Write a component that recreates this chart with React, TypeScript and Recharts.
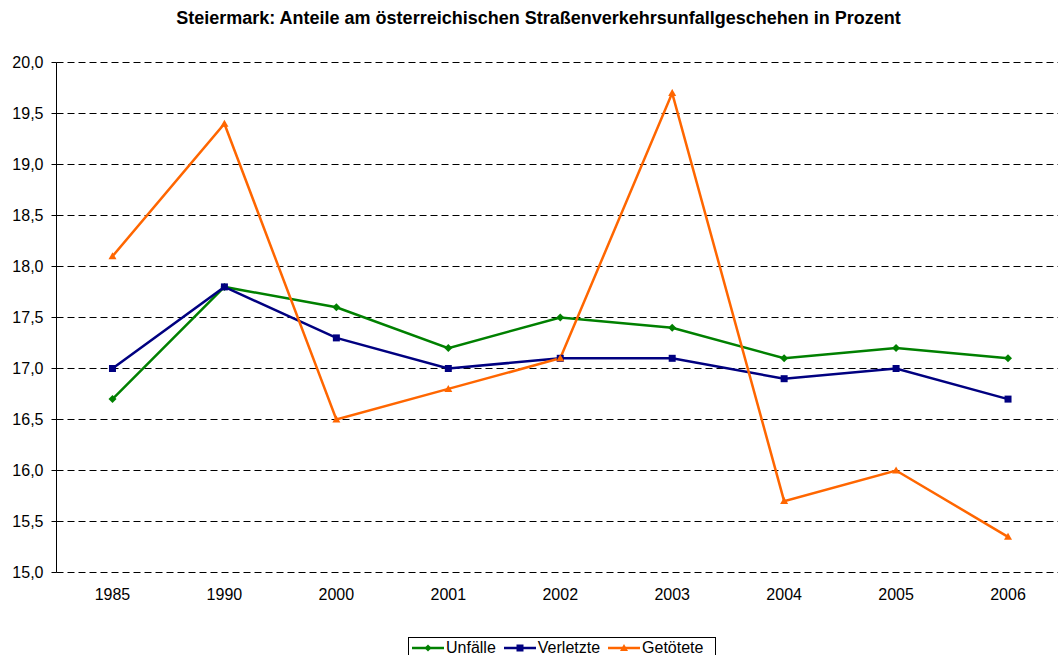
import { CartesianGrid, Legend, Line, LineChart, XAxis, YAxis } from 'recharts';

const years = ['1985', '1990', '2000', '2001', '2002', '2003', '2004', '2005', '2006'];
const unfaelle = [16.7, 17.8, 17.6, 17.2, 17.5, 17.4, 17.1, 17.2, 17.1];
const verletzte = [17.0, 17.8, 17.3, 17.0, 17.1, 17.1, 16.9, 17.0, 16.7];
const getoetete = [18.1, 19.4, 16.5, 16.8, 17.1, 19.7, 15.7, 16.0, 15.35];
const yTicks = [15, 15.5, 16, 16.5, 17, 17.5, 18, 18.5, 19, 19.5, 20];
const boundaryTicks = [0, 1, 2, 3, 4, 5, 6, 7, 8, 9];

const data = years.map((year, i) => ({
  year,
  Unfälle: unfaelle[i],
  Verletzte: verletzte[i],
  Getötete: getoetete[i],
}));

const GREEN = '#008000';
const NAVY = '#000080';
const ORANGE = '#FF6600';
const FONT = 'Arial, "Liberation Sans", sans-serif';

const fmt = (v: number) => v.toFixed(1).replace('.', ',');

function Diamond({ cx, cy }: any) {
  if (cx == null || cy == null) return null;
  return <path d={`M${cx},${cy - 4}L${cx + 4},${cy}L${cx},${cy + 4}L${cx - 4},${cy}Z`} fill={GREEN} />;
}

function Square({ cx, cy }: any) {
  if (cx == null || cy == null) return null;
  return <rect x={cx - 3.5} y={cy - 3.5} width={7} height={7} fill={NAVY} />;
}

function Triangle({ cx, cy }: any) {
  if (cx == null || cy == null) return null;
  return <path d={`M${cx},${cy - 4}L${cx + 4},${cy + 3}L${cx - 4},${cy + 3}Z`} fill={ORANGE} />;
}

function LegendBox() {
  const items = [
    { name: 'Unfälle', color: GREEN, shape: 'diamond' },
    { name: 'Verletzte', color: NAVY, shape: 'square' },
    { name: 'Getötete', color: ORANGE, shape: 'triangle' },
  ];
  return (
    <div
      style={{
        border: '1px solid #000',
        display: 'flex',
        alignItems: 'center',
        padding: '0 4px 0 3px',
        height: 20,
        background: '#fff',
        fontFamily: FONT,
        fontSize: 16,
        color: '#000',
        whiteSpace: 'nowrap',
      }}
    >
      {items.map((it) => (
        <div key={it.name} style={{ display: 'flex', alignItems: 'center', marginRight: 8 }}>
          <svg width={32} height={12}>
            <line x1={0} y1={6} x2={32} y2={6} stroke={it.color} strokeWidth={2.5} />
            {it.shape === 'diamond' && <path d="M16,2.5L19.5,6L16,9.5L12.5,6Z" fill={it.color} />}
            {it.shape === 'square' && <rect x={12.5} y={2.5} width={7} height={7} fill={it.color} />}
            {it.shape === 'triangle' && <path d="M16,2L20,9L12,9Z" fill={it.color} />}
          </svg>
          <span style={{ marginLeft: 2 }}>{it.name}</span>
        </div>
      ))}
    </div>
  );
}

export default function App() {
  return (
    <div style={{ position: 'absolute', left: 0, top: 0, width: 1058, height: 655, overflow: 'hidden', background: '#fff' }}>
      <div
        style={{
          position: 'absolute',
          top: 8,
          left: 0,
          width: 1077,
          textAlign: 'center',
          fontFamily: FONT,
          fontWeight: 'bold',
          fontSize: 18,
        }}
      >
        Steiermark: Anteile am österreichischen Straßenverkehrsunfallgeschehen in Prozent
      </div>
      <LineChart
        width={1064}
        height={655}
        data={data}
        margin={{ top: 62.5, right: 0, bottom: 52.5, left: 0.5 }}
        style={{ fontFamily: FONT }}
      >
        <CartesianGrid stroke="#000" strokeDasharray="7 4" vertical={false} />
        <XAxis
          dataKey="year"
          scale="band"
          height={30}
          axisLine={false}
          tickLine={false}
          tick={{ fontSize: 16, fill: '#000' }}
          tickMargin={10}
          interval={0}
        />
        <XAxis
          xAxisId="b"
          type="number"
          domain={[0, 9]}
          ticks={boundaryTicks}
          height={0}
          tick={false}
          tickSize={5}
          axisLine={{ stroke: '#000', strokeWidth: 1 }}
          tickLine={{ stroke: '#000' }}
        />
        <YAxis
          width={56}
          domain={[15, 20]}
          ticks={yTicks}
          tickFormatter={fmt}
          interval={0}
          tick={{ fontSize: 16, fill: '#000' }}
          tickSize={5}
          tickMargin={8}
          axisLine={{ stroke: '#000' }}
          tickLine={{ stroke: '#000' }}
        />
        <Legend
          layout="horizontal"
          verticalAlign="middle"
          align="center"
          wrapperStyle={{ position: 'absolute', left: 408, top: 637, width: 'auto' }}
          content={() => <LegendBox />}
        />
        <Line
          type="linear"
          dataKey="Unfälle"
          stroke={GREEN}
          strokeWidth={2.5}
          dot={<Diamond />}
          isAnimationActive={false}
        />
        <Line
          type="linear"
          dataKey="Verletzte"
          stroke={NAVY}
          strokeWidth={2.5}
          dot={<Square />}
          isAnimationActive={false}
        />
        <Line
          type="linear"
          dataKey="Getötete"
          stroke={ORANGE}
          strokeWidth={2.5}
          dot={<Triangle />}
          isAnimationActive={false}
        />
      </LineChart>
    </div>
  );
}
